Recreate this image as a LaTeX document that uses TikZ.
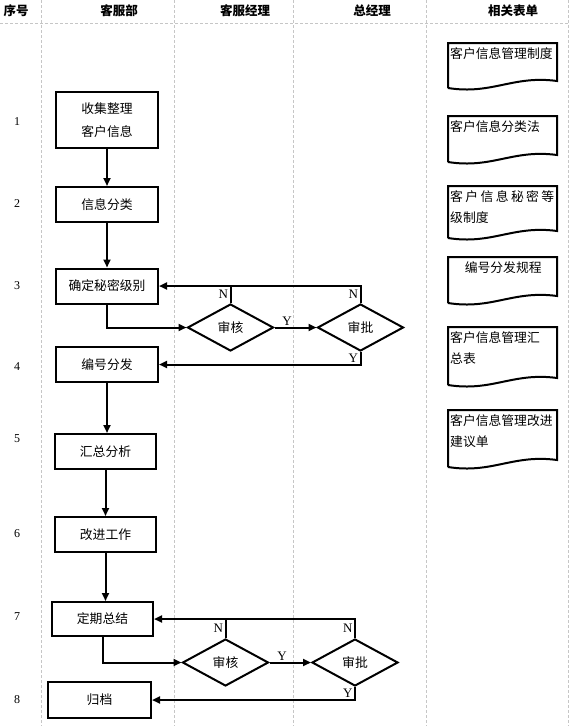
\documentclass[tikz,border=0pt]{standalone}
\usepackage{fontspec}
\setmainfont{Liberation Serif}
\newfontfamily\cjk{Noto Sans CJK SC}
\usetikzlibrary{shapes.geometric, arrows.meta}

\begin{document}
\begin{tikzpicture}[x=1pt, y=-1pt, >={Triangle[length=8pt, width=7pt]},
    grid/.style={gray!45, densely dashed, line width=0.4pt},
    head/.style={font=\cjk\bfseries\fontsize{12.5}{15}\selectfont},
    num/.style={font=\fontsize{12}{14}\selectfont},
    box/.style={draw, line width=2pt, minimum width=102pt, minimum height=35pt, inner sep=0pt, align=center, font=\cjk\fontsize{12.8}{23}\selectfont},
    check/.style={draw, diamond, line width=2pt, minimum width=86pt, minimum height=47pt, inner sep=0pt, font=\cjk\fontsize{12.8}{15}\selectfont},
    flow/.style={line width=2pt, ->},
    yn/.style={font=\fontsize{13}{14}\selectfont, inner sep=1.5pt},
    doctext/.style={anchor=north west, text width=106pt, inner sep=0pt, font=\cjk\fontsize{12.8}{21.5}\selectfont}]
        \fill[white] (0,0) rectangle (570,726);
        \useasboundingbox (0,0) rectangle (570,726);
        % lanes
        \draw[grid] (0,23) -- (570,23);
        \foreach \x in {41,174,293,426,568}
            \draw[grid] (\x,0) -- (\x,726);
        \node[head] (h0) at (16,11) {序号};
        \node[head] (h1) at (119,11) {客服部};
        \node[head] (h2) at (245,11) {客服经理};
        \node[head] (h3) at (372,11) {总经理};
        \node[head] (h4) at (513,11) {相关表单};
        \foreach \n/\y in {1/122,2/204,3/286,4/367,5/439,6/534,7/617,8/700}
            \node[num] (r\n) at (17,\y) {\n};

        \node[box, minimum height=56pt] (b1) at (107,120) {收集整理\\客户信息};
        \node[box] (b2) at (107,204.5) {信息分类};
        \node[box] (b3) at (107,286) {确定秘密级别};
        \node[check] (c1) at (230.5,327.5) {审核};
        \node[check] (c2) at (360.5,327.5) {审批};
        \node[box] (b4) at (107,364.5) {编号分发};
        \node[box, minimum width=101pt] (b5) at (105.5,451.5) {汇总分析};
        \node[box, minimum width=101pt] (b6) at (105.5,534.5) {改进工作};
        \node[box, minimum width=101pt, minimum height=34pt] (b7) at (102.5,619) {定期总结};
        \node[check] (c3) at (225.5,662.5) {审核};
        \node[check] (c4) at (355,662.5) {审批};
        \node[box, minimum width=103pt, minimum height=36pt] (b8) at (99.5,700) {归档};

        \draw[flow] (b1) -- (b2);
        \draw[flow] (b2) -- (b3);
        \draw[flow] (b3.south) |- (c1.west);
        \draw[flow] (c1.east) -- node[yn, above, pos=0.3] {Y} (c2.west);
        \draw[flow] (c2.north) |- node[yn, left, pos=0.25] {N} (b3.east);
        \draw[line width=2pt] (c1.north) -- node[yn, left] {N} (c1.north |- b3.east);
        \draw[flow] (c2.south) |- node[yn, left, pos=0.25] {Y} (b4.east);
        \draw[flow] (b4.south) -- (b4.south |- b5.north);
        \draw[flow] (b5) -- (b6);
        \draw[flow] (b6.south) -- (b6.south |- b7.north);
        \draw[flow] (b7.south) |- (c3.west);
        \draw[flow] (c3.east) -- node[yn, above, pos=0.3] {Y} (c4.west);
        \draw[flow] (c4.north) |- node[yn, left, pos=0.25] {N} (b7.east);
        \draw[line width=2pt] (c3.north) -- node[yn, left] {N} (c3.north |- b7.east);
        \draw[flow] (c4.south) |- node[yn, left, pos=0.25] {Y} (b8.east);

        % forms
        \foreach \n/\t/\b/\al/\txt in {1/43/88/left/{客户信息管理制度},
                2/116/162/left/{客户信息分类法},
                3/186/238/left/{\makebox[104pt][s]{客\hfill 户\hfill 信\hfill 息\hfill 秘\hfill 密\hfill 等}\\级制度},
                4/257/303/center/{编号分发规程},
                5/327/385/left/{客户信息管理汇\\总表},
                6/410/467/left/{客户信息管理改进\\建议单}} {
            \draw[line width=2pt] (448,\b) -- (448,\t) -- (557,\t) -- (557,\b-7)
                .. controls (513,\b-13) and (492,\b+7) .. (448,\b);
            \node[doctext, align=\al] (f\n) at (450,\t+4) {\txt};
        }
    \end{tikzpicture}
\end{document}
